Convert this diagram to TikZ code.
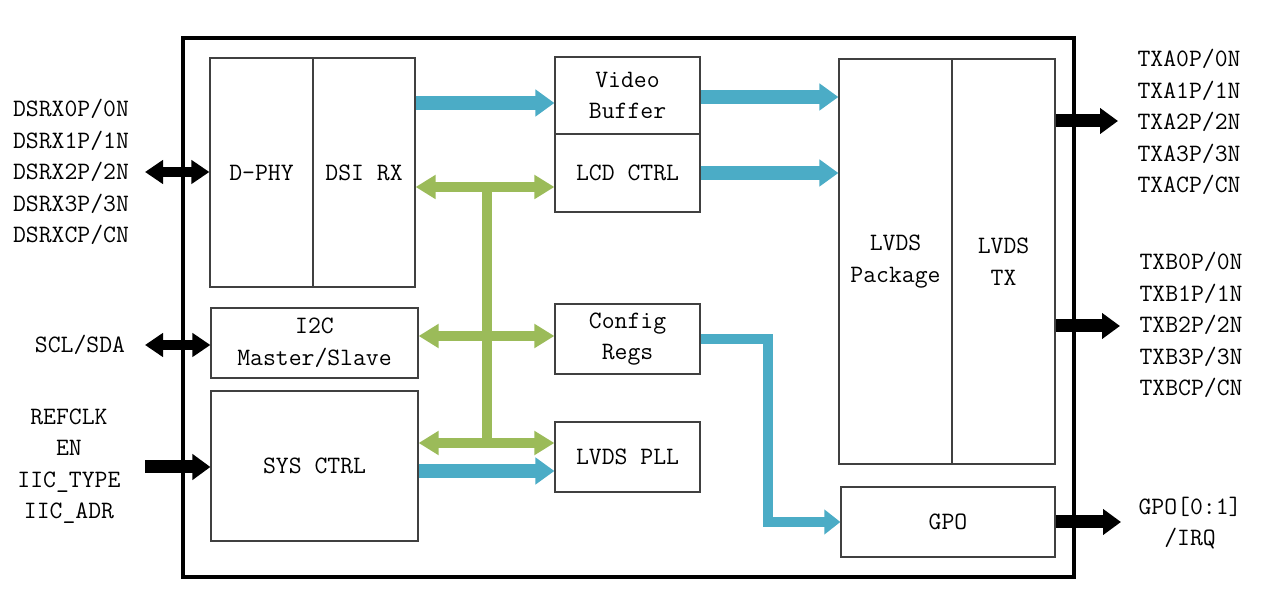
\documentclass[tikz,border=0pt]{standalone}
\usetikzlibrary{arrows.meta}
\definecolor{cblue}{HTML}{4BACC6}
\definecolor{cgreen}{HTML}{9BBB59}
\definecolor{cframe}{HTML}{404040}
\begin{document}
\begin{tikzpicture}[x=0.5pt,y=-0.5pt,
  fnt/.style={font=\fontsize{12.5}{15.75}\selectfont\ttfamily},
  txt/.style={fnt, align=center, inner sep=0pt},
  blk/.style={fnt, align=center, draw=cframe, line width=0.6pt, fill=white, inner sep=0pt, minimum width=#1},
  chipbox/.style={draw=black, line width=2.2pt, inner sep=0pt},
  bluearr/.style={draw=cblue, line width=7pt, -{Triangle[length=9.5pt, width=13pt]}},
  bluethin/.style={draw=cblue, line width=5pt, -{Triangle[length=8pt, width=12pt]}},
  greenarr/.style={draw=cgreen, line width=5pt, {Triangle[length=10pt, width=11.5pt]}-{Triangle[length=10pt, width=11.5pt]}},
  greenbus/.style={draw=cgreen, line width=5pt},
  blkdbl/.style={draw=black, line width=5pt, {Triangle[length=9pt, width=11.5pt]}-{Triangle[length=9pt, width=11.5pt]}},
  blkone/.style={draw=black, line width=6.5pt, -{Triangle[length=9pt, width=12.5pt]}}
]
\useasboundingbox (0,0) rectangle (1282,608);

% chip outline
\node[chipbox, minimum width=445.5pt, minimum height=269.5pt] (chip) at (628.5,307.5) {};

% blocks
\node[blk=51.5pt, minimum height=114.5pt] (dphy) at (261.5,172.5) {D-PHY};
\node[blk=51pt, minimum height=114.5pt] (dsirx) at (364,172.5) {DSI RX};
\node[blk=103.5pt, minimum height=35pt] (i2c) at (314.5,343) {I2C\\Master/Slave};
\node[blk=103.5pt, minimum height=75pt] (sys) at (314.5,466) {SYS CTRL};
\node[blk=72.5pt, minimum height=38.5pt] (vbuf) at (627.5,95.5) {Video\\Buffer};
\node[blk=72.5pt, minimum height=39pt] (lcd) at (627.5,173) {LCD CTRL};
\node[blk=72.5pt, minimum height=35pt] (cfg) at (627.5,339) {Config\\Regs};
\node[blk=72.5pt, minimum height=35pt] (pll) at (627.5,457) {LVDS PLL};
\node[blk=56.5pt, minimum height=202.5pt] (lpkg) at (895.5,261.5) {LVDS\\Package};
\node[blk=51.5pt, minimum height=202.5pt] (ltx) at (1003.5,261.5) {LVDS\\TX};
\node[blk=107pt, minimum height=35pt] (gpo) at (948,522) {GPO};

% labels
\node[txt] (lbldsrx) at (71,172) {DSRX0P/0N\\DSRX1P/1N\\DSRX2P/2N\\DSRX3P/3N\\DSRXCP/CN};
\node[txt] (lblscl) at (80,345) {SCL/SDA};
\node[txt] (lblref) at (69,466) {REFCLK\\EN\\IIC\_TYPE\\IIC\_ADR};
\node[txt] (lbltxa) at (1189,122) {TXA0P/0N\\TXA1P/1N\\TXA2P/2N\\TXA3P/3N\\TXACP/CN};
\node[txt] (lbltxb) at (1191,325) {TXB0P/0N\\TXB1P/1N\\TXB2P/2N\\TXB3P/3N\\TXBCP/CN};
\node[txt] (lblgpo) at (1190,523) {GPO[0:1]\\/IRQ};

% free ends
\coordinate (indsrx) at (145,172);
\coordinate (inscl) at (145,345);
\coordinate (inref) at (145,467);
\coordinate (outa) at (1118,121);
\coordinate (outb) at (1120,326);
\coordinate (outg) at (1121,522);
\coordinate (bustop) at (487,187);
\coordinate (busbot) at (487,443);

% blue data arrows
\draw[bluearr] (dsirx.east |- 0,103) -- (vbuf.west |- 0,103);
\draw[bluearr] (vbuf.east |- 0,97) -- (lpkg.west |- 0,97);
\draw[bluearr] (lcd.east) -- (lpkg.west |- lcd.east);
\draw[bluearr] (sys.east |- 0,471) -- (pll.west |- 0,471);
\draw[bluethin] (cfg.east) -- ++(67,0) |- (gpo.west);

% green control bus
\draw[greenbus] (bustop) -- (busbot);
\draw[greenarr] (dsirx.east |- bustop) -- (lcd.west |- bustop);
\draw[greenarr] (i2c.east |- 0,336) -- (cfg.west |- 0,336);
\draw[greenarr] (sys.east |- busbot) -- (pll.west |- busbot);

% black IO arrows
\draw[blkdbl] (indsrx) -- (dphy.west |- indsrx);
\draw[blkdbl] (inscl) -- (i2c.west |- inscl);
\draw[blkone] (inref) -- (sys.west |- inref);
\draw[blkone] (ltx.east |- outa) -- (outa);
\draw[blkone] (ltx.east |- outb) -- (outb);
\draw[blkone] (gpo.east) -- (outg);
\end{tikzpicture}
\end{document}
